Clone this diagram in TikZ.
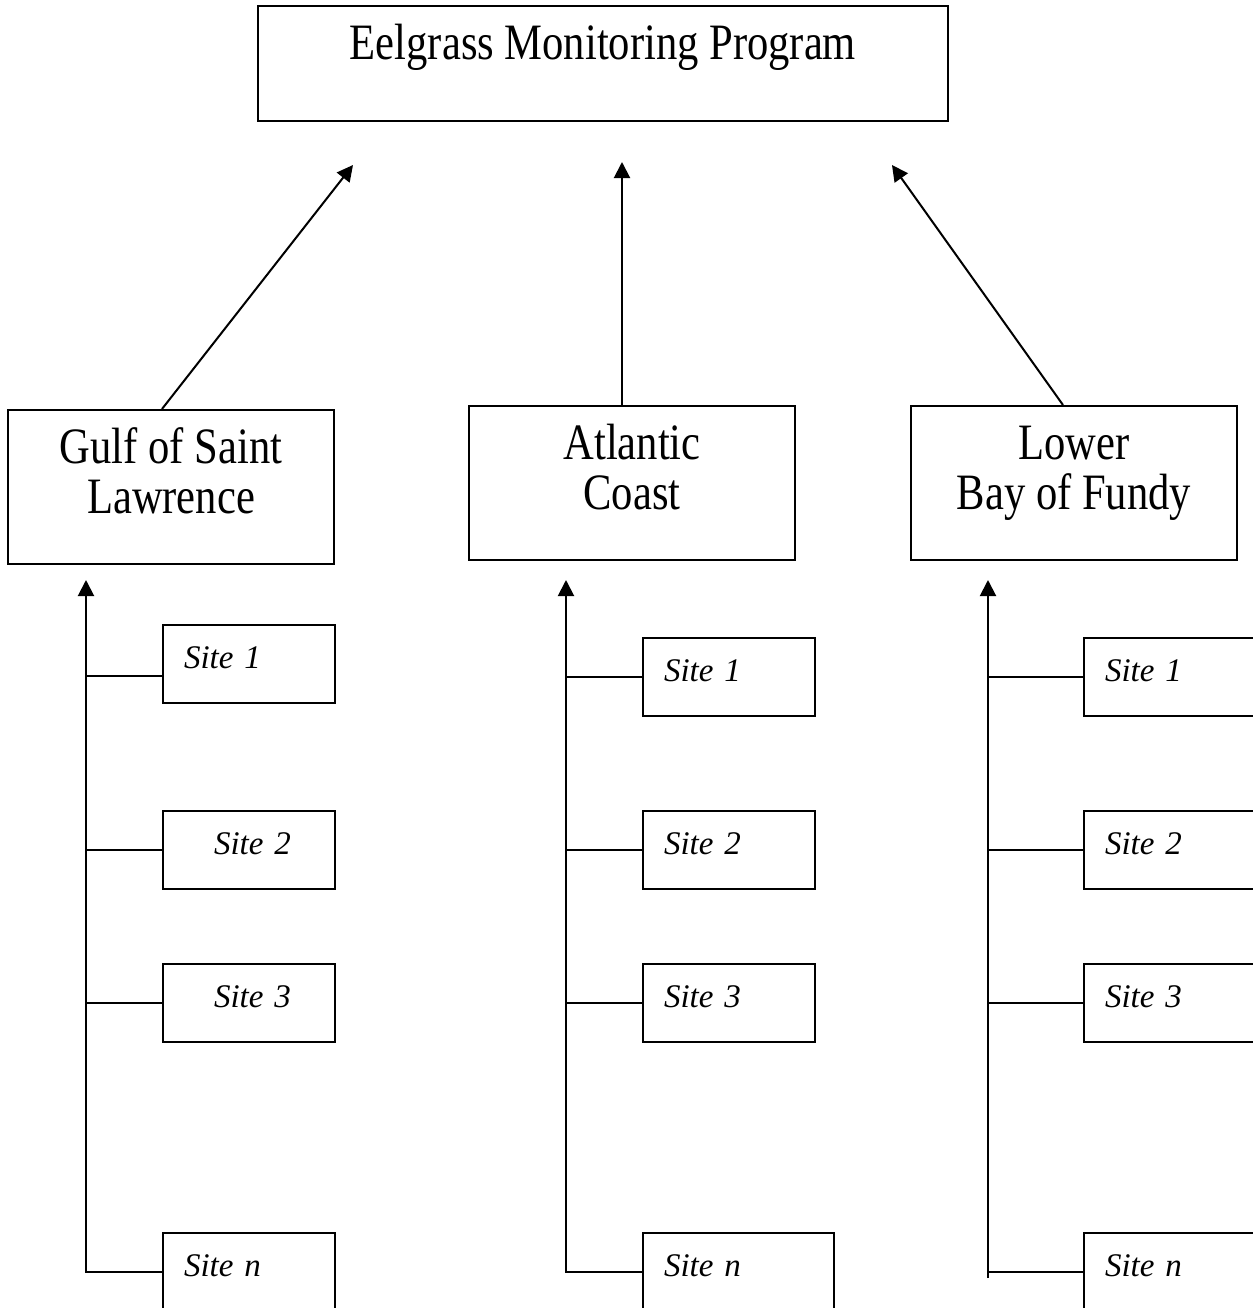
\documentclass[tikz,border=0pt]{standalone}
\usepackage{fontspec}
\setmainfont{Liberation Serif}
\newfontfamily\headfont[FakeStretch=0.835]{Liberation Serif}
\usetikzlibrary{arrows.meta, calc}

\begin{document}
\begin{tikzpicture}[x=0.5pt, y=-0.5pt, line width=1pt,
    mainbox/.style={draw, minimum width=345pt, minimum height=57.5pt,
      font=\headfont\fontsize{25.5pt}{25pt}\selectfont, text height=18pt, text depth=22.5pt},
    regionbox/.style={draw, align=center, minimum width=163pt, minimum height=77pt,
      font=\headfont\fontsize{25.5pt}{25pt}\selectfont, text height=40pt, text depth=14pt},
    sitebox/.style={draw, anchor=north west, align=left, inner xsep=10.5pt,
      text width=65pt, minimum height=39pt, text height=12pt, text depth=8pt,
      font=\fontsize{16.5pt}{19pt}\selectfont\itshape},
    link/.style={line width=1pt},
    feed/.style={line width=1pt, -{Triangle[length=8pt, width=8pt]}}]
  \clip (0,0) rectangle (1253,1308);
  % programa arriba
  \node[mainbox] (prog) at (603,63.5) {Eelgrass Monitoring Program};
  \coordinate (tl) at (353,165);
  \coordinate (tm) at (622,162);
  \coordinate (tr) at (892,165);
  % regiones
  \node[regionbox] (gulf) at (171,487) {Gulf of Saint\\Lawrence};
  \node[regionbox] (atl) at (632,483) {Atlantic\\Coast};
  \node[regionbox] (fundy) at (1074,483) {Lower\\Bay of Fundy};
  \draw[feed] ([xshift=-4.5pt]gulf.north) -- (tl);
  \draw[feed] ([xshift=-5pt]atl.north) -- (tm);
  \draw[feed] ([xshift=-5.5pt]fundy.north) -- (tr);
  % sitios - Gulf of Saint Lawrence
  \coordinate (up1) at (86,580);
  \node[sitebox] (s11) at (162,624) {Site 1};
  \node[sitebox] (s12) at (162,810) {\hspace*{15pt}Site 2};
  \node[sitebox] (s13) at (162,963) {\hspace*{15pt}Site 3};
  \node[sitebox] (s1n) at (162,1232) {Site \textit{n}};
  \draw[feed] (s1n.west) -| (up1);
  \draw[link] ([yshift=-6pt]s11.west) -- ([yshift=-6pt]s11.west -| up1);
  \draw[link] (s12.west) -- (s12.west -| up1);
  \draw[link] (s13.west) -- (s13.west -| up1);
  % sitios - Atlantic Coast
  \coordinate (up2) at (566,580);
  \node[sitebox] (s21) at (642,637) {Site 1};
  \node[sitebox] (s22) at (642,810) {Site 2};
  \node[sitebox] (s23) at (642,963) {Site 3};
  \node[sitebox, text width=74.5pt] (s2n) at (642,1232) {Site \textit{n}};
  \draw[feed] (s2n.west) -| (up2);
  \draw[link] (s21.west) -- (s21.west -| up2);
  \draw[link] (s22.west) -- (s22.west -| up2);
  \draw[link] (s23.west) -- (s23.west -| up2);
  % sitios - Lower Bay of Fundy
  \coordinate (up3) at (988,580);
  \node[sitebox] (s31) at (1083,637) {Site 1};
  \node[sitebox] (s32) at (1083,810) {Site 2};
  \node[sitebox] (s33) at (1083,963) {Site 3};
  \node[sitebox] (s3n) at (1083,1232) {Site \textit{n}};
  \draw[feed] ([yshift=-3pt]s3n.west -| up3) -- (up3);
  \draw[link] (s31.west) -- (s31.west -| up3);
  \draw[link] (s32.west) -- (s32.west -| up3);
  \draw[link] (s33.west) -- (s33.west -| up3);
  \draw[link] (s3n.west) -- (s3n.west -| up3);
\end{tikzpicture}
\end{document}
